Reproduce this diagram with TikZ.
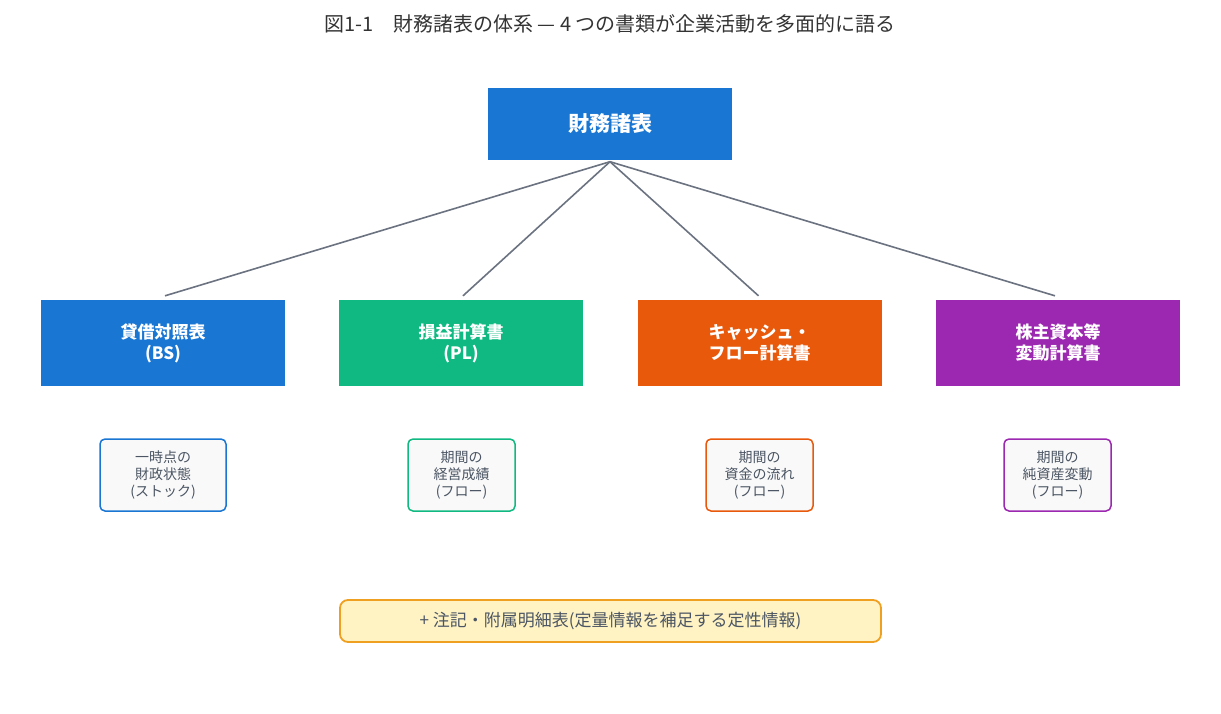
\documentclass[tikz,border=0pt]{standalone}
\usepackage{fontspec}
\setmainfont{Noto Sans CJK JP}
\definecolor{cblue}{HTML}{1976D2}
\definecolor{cgreen}{HTML}{10B981}
\definecolor{corange}{HTML}{E8590C}
\definecolor{cpurple}{HTML}{9C27B0}
\definecolor{cline}{HTML}{6B7280}
\definecolor{ctext}{HTML}{4B5563}
\begin{document}
\begin{tikzpicture}[x=1pt,y=-1pt,
 big/.style={minimum width=244pt,minimum height=86pt,text=white,font=\fontsize{17}{21}\selectfont\bfseries,align=center,inner sep=0},
 small/.style={draw=#1,line width=1.5pt,rounded corners=5pt,fill=gray!5,text=ctext,font=\fontsize{14}{17}\selectfont,align=center,inner sep=0,minimum height=72pt},
 conn/.style={draw=cline,line width=1.6pt}]
\useasboundingbox (0,0) rectangle (1221,713);
\node[text=black!80,font=\fontsize{20}{24}\selectfont] (title) at (610,24) {図1-1\quad 財務諸表の体系 — 4 つの書類が企業活動を多面的に語る};
\node[fill=cblue,minimum width=244pt,minimum height=72pt,text=white,font=\fontsize{21}{25}\selectfont\bfseries] (top) at (610,123.5) {財務諸表};
\node[big,fill=cblue] (bs) at (163,343) {貸借対照表\\(BS)};
\node[big,fill=cgreen] (pl) at (461,343) {損益計算書\\(PL)};
\node[big,fill=corange] (cf) at (759.5,343) {キャッシュ・\\フロー計算書};
\node[big,fill=cpurple] (ss) at (1058,343) {株主資本等\\変動計算書};
\draw[conn] ([yshift=-2pt]top.south) -- ([xshift=2pt,yshift=4pt]bs.north);
\draw[conn] ([yshift=-2pt]top.south) -- ([xshift=2pt,yshift=4pt]pl.north);
\draw[conn] ([yshift=-2pt]top.south) -- ([xshift=-1pt,yshift=4pt]cf.north);
\draw[conn] ([yshift=-2pt]top.south) -- ([xshift=-3pt,yshift=4pt]ss.north);
\node[small=cblue,minimum width=126pt] (n1) at (163,475) {一時点の\\財政状態\\(ストック)};
\node[small=cgreen,minimum width=107pt] (n2) at (461.5,475) {期間の\\経営成績\\(フロー)};
\node[small=corange,minimum width=107pt] (n3) at (759.5,475) {期間の\\資金の流れ\\(フロー)};
\node[small=cpurple,minimum width=107pt] (n4) at (1057.5,475) {期間の\\純資産変動\\(フロー)};
\node[draw={rgb,255:red,240;green,160;blue,32},fill={rgb,255:red,255;green,243;blue,196},line width=1.8pt,rounded corners=8pt,minimum width=541pt,minimum height=42pt,text=ctext,font=\fontsize{17}{20}\selectfont] (note) at (610.5,621) {+ 注記・附属明細表(定量情報を補足する定性情報)};
\end{tikzpicture}
\end{document}
